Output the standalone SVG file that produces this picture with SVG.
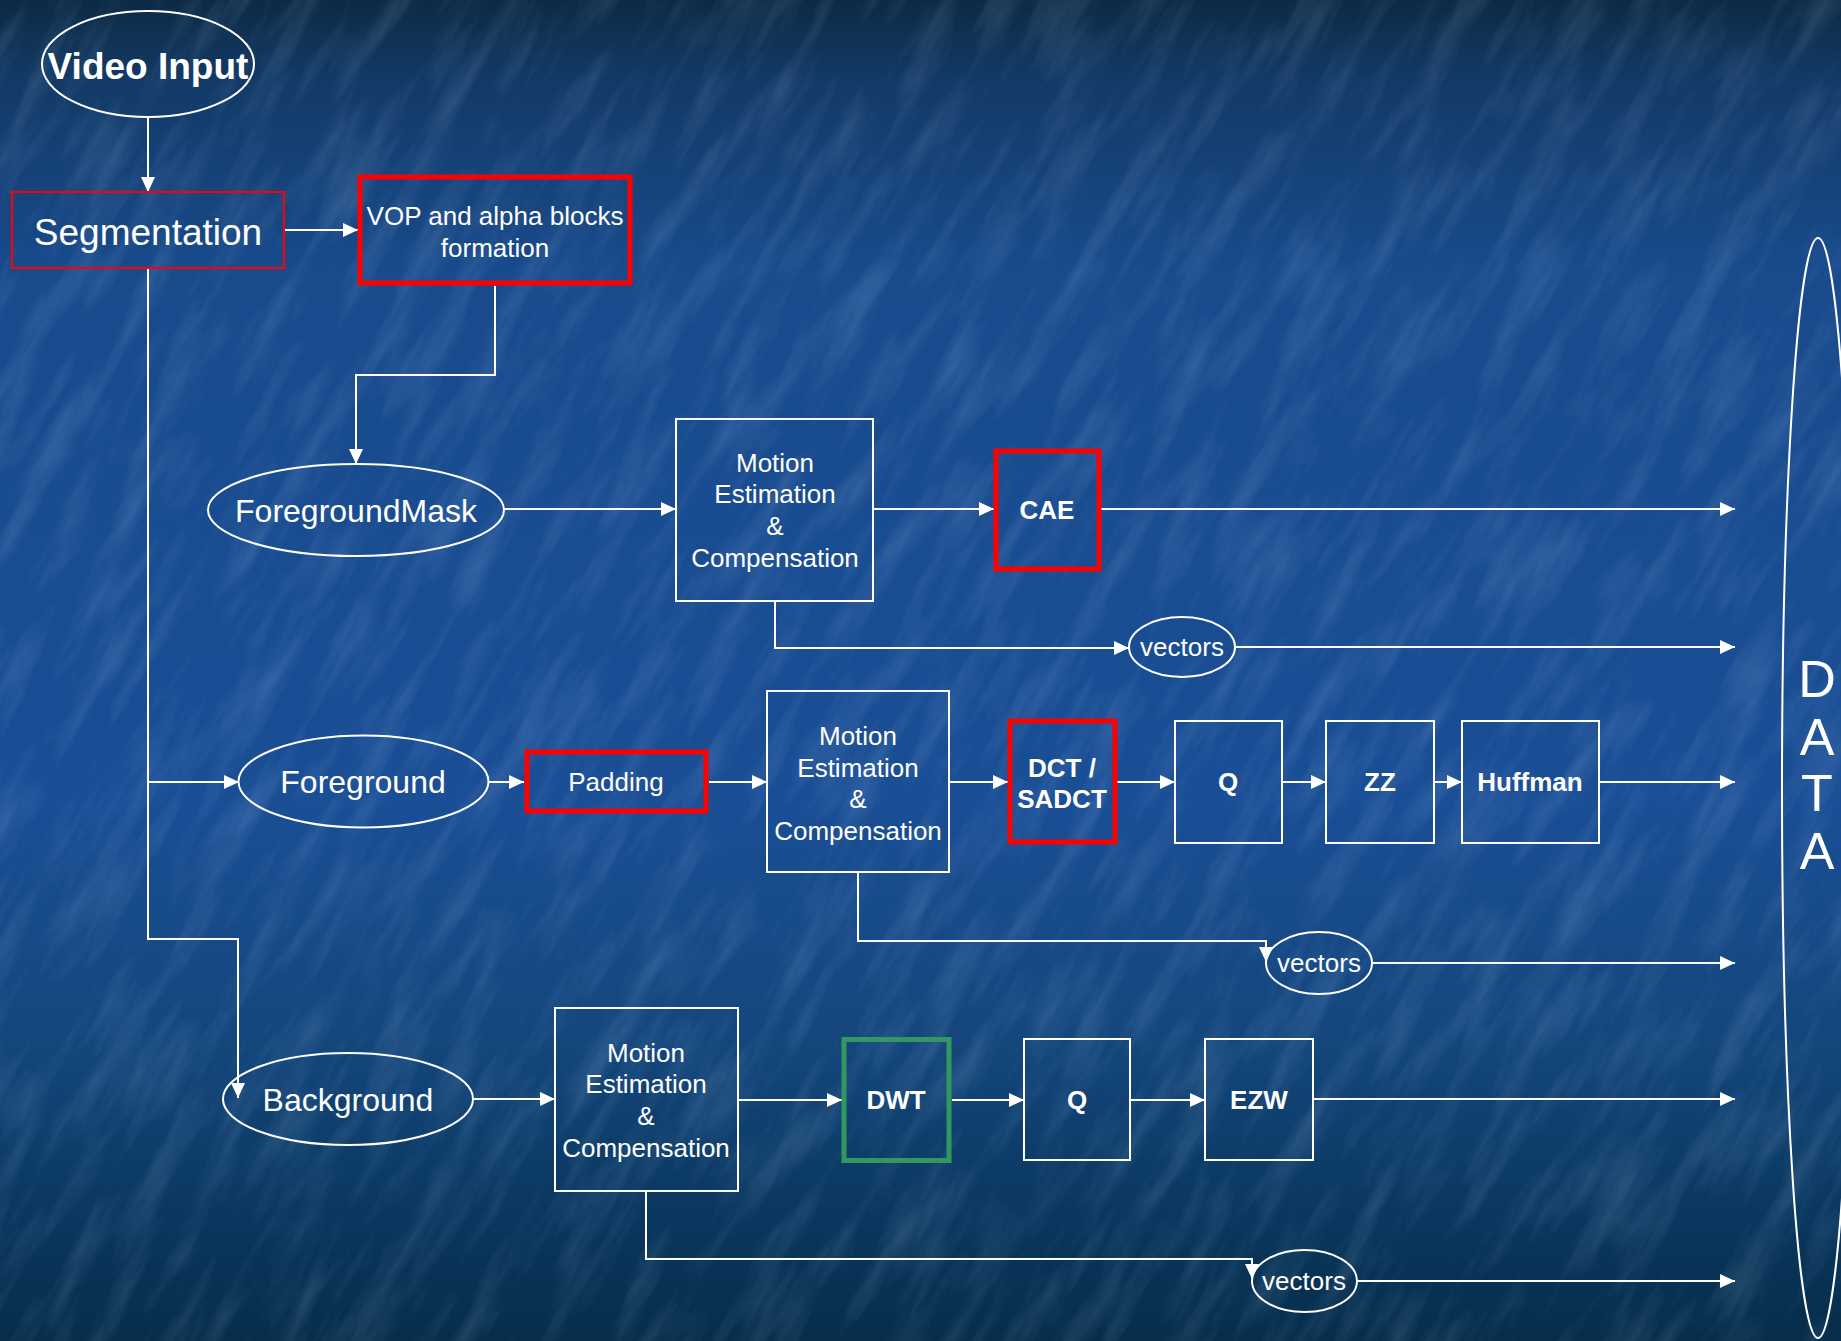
<svg xmlns="http://www.w3.org/2000/svg" width="1841" height="1341" viewBox="0 0 1841 1341">
<defs>
<linearGradient id="bg" x1="0" y1="0" x2="0" y2="1">
<stop offset="0" stop-color="#0d2a44"/>
<stop offset="0.06" stop-color="#123a66"/>
<stop offset="0.2" stop-color="#184a8c"/>
<stop offset="0.6" stop-color="#1a4e95"/>
<stop offset="0.78" stop-color="#14467c"/>
<stop offset="0.9" stop-color="#0a3860"/>
<stop offset="1" stop-color="#062d4b"/>
</linearGradient>
<filter id="tex" x="0" y="0" width="100%" height="100%">
<feTurbulence type="fractalNoise" baseFrequency="0.008 0.04" numOctaves="4" seed="7"/>
<feColorMatrix type="matrix" values="0 0 0 0 0.55  0 0 0 0 0.72  0 0 0 0 1  0 0 0 1.4 -0.6"/>
</filter>
<marker id="ah" viewBox="0 0 10 10" refX="10" refY="5" markerWidth="15" markerHeight="14" markerUnits="userSpaceOnUse" orient="auto" preserveAspectRatio="none">
<path d="M0,0 L10,5 L0,10 z" fill="#fff"/>
</marker>
<style>
.t{font-family:"Liberation Sans",Arial,sans-serif;fill:#fff;text-anchor:middle}
.b{font-weight:bold}
.box{fill:none;stroke:#fff;stroke-width:2}
.red{fill:none;stroke:#ff0000;stroke-width:5}
.redthin{fill:none;stroke:#ff0000;stroke-width:2}
.grn{fill:none;stroke:#33985f;stroke-width:5}
.ell{fill:none;stroke:#fff;stroke-width:2}
.c{fill:none;stroke:#fff;stroke-width:2}
</style>
</defs>
<rect width="1841" height="1341" fill="url(#bg)"/>
<g opacity="0.22">
<rect x="-800" y="-800" width="3400" height="3000" filter="url(#tex)" transform="rotate(-60 920 670)"/>
</g>

<g id="connectors">
<path class="c" d="M148,117 V192" marker-end="url(#ah)"/>
<path class="c" d="M284,230 H358" marker-end="url(#ah)"/>
<path class="c" d="M495,286 V375 H356 V464" marker-end="url(#ah)"/>
<path class="c" d="M148,268 V939 H238 V1098" marker-end="url(#ah)"/>
<path class="c" d="M148,782 H239" marker-end="url(#ah)"/>
<path class="c" d="M504,509 H676" marker-end="url(#ah)"/>
<path class="c" d="M873,509 H994" marker-end="url(#ah)"/>
<path class="c" d="M1101,509 H1735" marker-end="url(#ah)"/>
<path class="c" d="M775,601 V648 H1129" marker-end="url(#ah)"/>
<path class="c" d="M1235,647 H1735" marker-end="url(#ah)"/>
<path class="c" d="M488,782 H524" marker-end="url(#ah)"/>
<path class="c" d="M709,782 H767" marker-end="url(#ah)"/>
<path class="c" d="M949,782 H1008" marker-end="url(#ah)"/>
<path class="c" d="M1117,782 H1175" marker-end="url(#ah)"/>
<path class="c" d="M1282,782 H1326" marker-end="url(#ah)"/>
<path class="c" d="M1434,782 H1462" marker-end="url(#ah)"/>
<path class="c" d="M1599,782 H1735" marker-end="url(#ah)"/>
<path class="c" d="M858,872 V941 H1266 V962" marker-end="url(#ah)"/>
<path class="c" d="M1372,963 H1735" marker-end="url(#ah)"/>
<path class="c" d="M473,1099 H555" marker-end="url(#ah)"/>
<path class="c" d="M738,1100 H842" marker-end="url(#ah)"/>
<path class="c" d="M952,1100 H1024" marker-end="url(#ah)"/>
<path class="c" d="M1130,1100 H1205" marker-end="url(#ah)"/>
<path class="c" d="M1313,1099 H1735" marker-end="url(#ah)"/>
<path class="c" d="M646,1191 V1259 H1252 V1279" marker-end="url(#ah)"/>
<path class="c" d="M1357,1281 H1735" marker-end="url(#ah)"/>
</g>

<g id="video-input">
<ellipse class="ell" cx="148" cy="64" rx="106" ry="53"/>
<text class="t b" x="148" y="79" font-size="37">Video Input</text>
</g>
<g id="segmentation">
<rect class="redthin" x="12" y="192" width="272" height="76"/>
<text class="t" x="148" y="245" font-size="37">Segmentation</text>
</g>
<g id="vop">
<rect class="red" x="360" y="177" width="270" height="106"/>
<text class="t" x="495" y="225" font-size="26">VOP and alpha blocks</text>
<text class="t" x="495" y="257" font-size="26">formation</text>
</g>
<g id="foreground-mask">
<ellipse class="ell" cx="356" cy="510" rx="148" ry="46"/>
<text class="t" x="356" y="522" font-size="32">ForegroundMask</text>
</g>
<g id="me1">
<rect class="box" x="676" y="419" width="197" height="182"/>
<text class="t" x="775" y="472" font-size="26">Motion</text>
<text class="t" x="775" y="503" font-size="26">Estimation</text>
<text class="t" x="775" y="535" font-size="26">&amp;</text>
<text class="t" x="775" y="567" font-size="26">Compensation</text>
</g>
<g id="cae">
<rect class="red" x="996" y="451" width="103" height="118"/>
<text class="t b" x="1047" y="519" font-size="26">CAE</text>
</g>
<g id="vectors1">
<ellipse class="ell" cx="1182" cy="647" rx="53" ry="30"/>
<text class="t" x="1182" y="656" font-size="26">vectors</text>
</g>
<g id="foreground">
<ellipse class="ell" cx="363.5" cy="781.5" rx="125" ry="46"/>
<text class="t" x="363" y="793" font-size="32">Foreground</text>
</g>
<g id="padding">
<rect class="red" x="527" y="752" width="179" height="59"/>
<text class="t" x="616" y="791" font-size="26">Padding</text>
</g>
<g id="me2">
<rect class="box" x="767" y="691" width="182" height="181"/>
<text class="t" x="858" y="745" font-size="26">Motion</text>
<text class="t" x="858" y="777" font-size="26">Estimation</text>
<text class="t" x="858" y="808" font-size="26">&amp;</text>
<text class="t" x="858" y="840" font-size="26">Compensation</text>
</g>
<g id="dct">
<rect class="red" x="1010" y="721" width="105" height="121"/>
<text class="t b" x="1062" y="777" font-size="26">DCT /</text>
<text class="t b" x="1062" y="808" font-size="26">SADCT</text>
</g>
<g id="q1">
<rect class="box" x="1175" y="721" width="107" height="122"/>
<text class="t b" x="1228" y="791" font-size="26">Q</text>
</g>
<g id="zz">
<rect class="box" x="1326" y="721" width="108" height="122"/>
<text class="t b" x="1380" y="791" font-size="26">ZZ</text>
</g>
<g id="huffman">
<rect class="box" x="1462" y="721" width="137" height="122"/>
<text class="t b" x="1530" y="791" font-size="26">Huffman</text>
</g>
<g id="vectors2">
<ellipse class="ell" cx="1319" cy="963" rx="53" ry="31"/>
<text class="t" x="1319" y="972" font-size="26">vectors</text>
</g>
<g id="background">
<ellipse class="ell" cx="348" cy="1099" rx="125" ry="46"/>
<text class="t" x="348" y="1111" font-size="32">Background</text>
</g>
<g id="me3">
<rect class="box" x="555" y="1008" width="183" height="183"/>
<text class="t" x="646" y="1062" font-size="26">Motion</text>
<text class="t" x="646" y="1093" font-size="26">Estimation</text>
<text class="t" x="646" y="1125" font-size="26">&amp;</text>
<text class="t" x="646" y="1157" font-size="26">Compensation</text>
</g>
<g id="dwt">
<rect class="grn" x="844" y="1039.5" width="105" height="121"/>
<text class="t b" x="896" y="1109" font-size="26">DWT</text>
</g>
<g id="q2">
<rect class="box" x="1024" y="1039" width="106" height="121"/>
<text class="t b" x="1077" y="1109" font-size="26">Q</text>
</g>
<g id="ezw">
<rect class="box" x="1205" y="1039" width="108" height="121"/>
<text class="t b" x="1259" y="1109" font-size="26">EZW</text>
</g>
<g id="vectors3">
<ellipse class="ell" cx="1304.5" cy="1281" rx="52.5" ry="31"/>
<text class="t" x="1304" y="1290" font-size="26">vectors</text>
</g>
<g id="data">
<ellipse class="ell" cx="1818" cy="788" rx="36" ry="550"/>
<text class="t" x="1817" y="697" font-size="52">D</text>
<text class="t" x="1817" y="755" font-size="52">A</text>
<text class="t" x="1817" y="811" font-size="52">T</text>
<text class="t" x="1817" y="869" font-size="52">A</text>
</g>
</svg>
